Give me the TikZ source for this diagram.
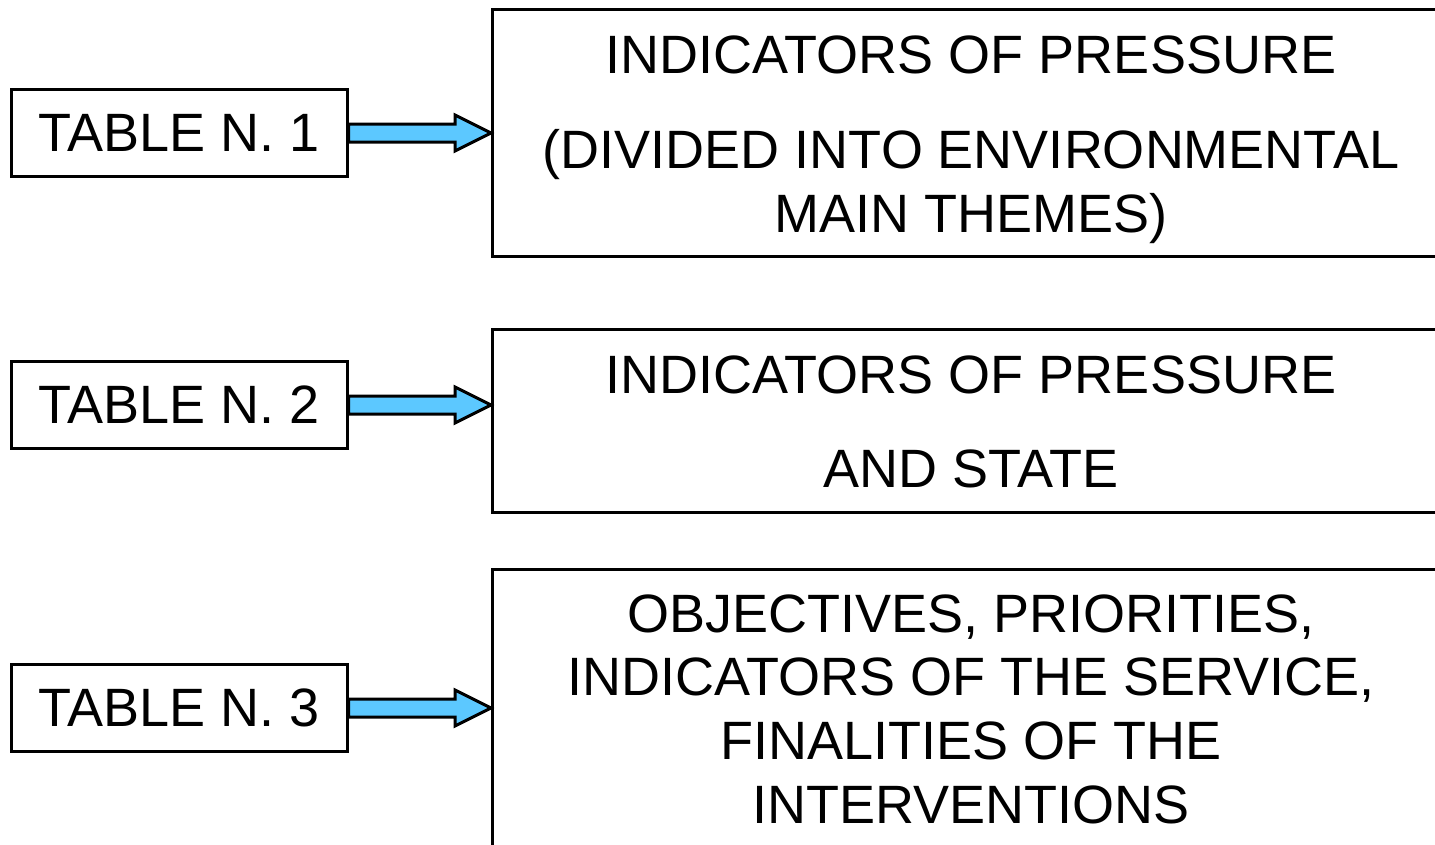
\documentclass[tikz,border=0pt]{standalone}
\usepackage{fontspec}
\setmainfont{Liberation Sans}
\usetikzlibrary{calc}
\definecolor{arrowblue}{RGB}{92,200,255}
\tikzset{
  px/.style={x=1pt,y=-1pt},
  smallbox/.style={draw,line width=3pt,minimum width=336pt,minimum height=87pt,inner sep=0pt,font=\fontsize{54}{60}\selectfont},
  bigbox/.style={draw,line width=3pt,inner sep=0pt},
  txt/.style={anchor=base,inner sep=0pt,font=\fontsize{54}{60}\selectfont},
  arr/.style={draw,line width=3pt,fill=arrowblue,line join=miter}
}
\newcommand\blockarrow[2]{%
  \draw[arr] ($(#1.east)+(0,-9)$) -- ($(#2.west |- #1.east)+(-36,-9)$) -- ++(0,-9)
    -- (#2.west |- #1.east) -- ++(-36,18) -- ++(0,-9) -- ($(#1.east)+(0,9)$) -- cycle;}
\begin{document}
\begin{tikzpicture}[px]
\clip (0,0) rectangle (1435,844);
\fill[white] (0,0) rectangle (1435,844);
% big boxes
\node[bigbox,minimum width=954pt,minimum height=247pt,anchor=north west] (b1) at (491,8) {};
\node[bigbox,minimum width=954pt,minimum height=183pt,anchor=north west] (b2) at (491,328) {};
\node[bigbox,minimum width=954pt,minimum height=330pt,anchor=north west] (b3) at (491,568) {};
% small boxes
\node[smallbox] (t1) at (179,133) {TABLE N. 1};
\node[smallbox] (t2) at (179,405) {TABLE N. 2};
\node[smallbox] (t3) at (179,708) {TABLE N. 3};
% texts
\node[txt] (l11) at (971,73) {INDICATORS OF PRESSURE};
\node[txt] (l12) at (971,168) {(DIVIDED INTO ENVIRONMENTAL};
\node[txt] (l13) at (971,232) {MAIN THEMES)};
\node[txt] (l21) at (971,393) {INDICATORS OF PRESSURE};
\node[txt] (l22) at (971,487) {AND STATE};
\node[txt] (l31) at (971,632) {OBJECTIVES, PRIORITIES,};
\node[txt] (l32) at (971,695) {INDICATORS OF THE SERVICE,};
\node[txt] (l33) at (971,759) {FINALITIES OF THE};
\node[txt] (l34) at (971,823) {INTERVENTIONS};
% arrows
\blockarrow{t1}{b1}
\blockarrow{t2}{b2}
\blockarrow{t3}{b3}
\end{tikzpicture}
\end{document}
